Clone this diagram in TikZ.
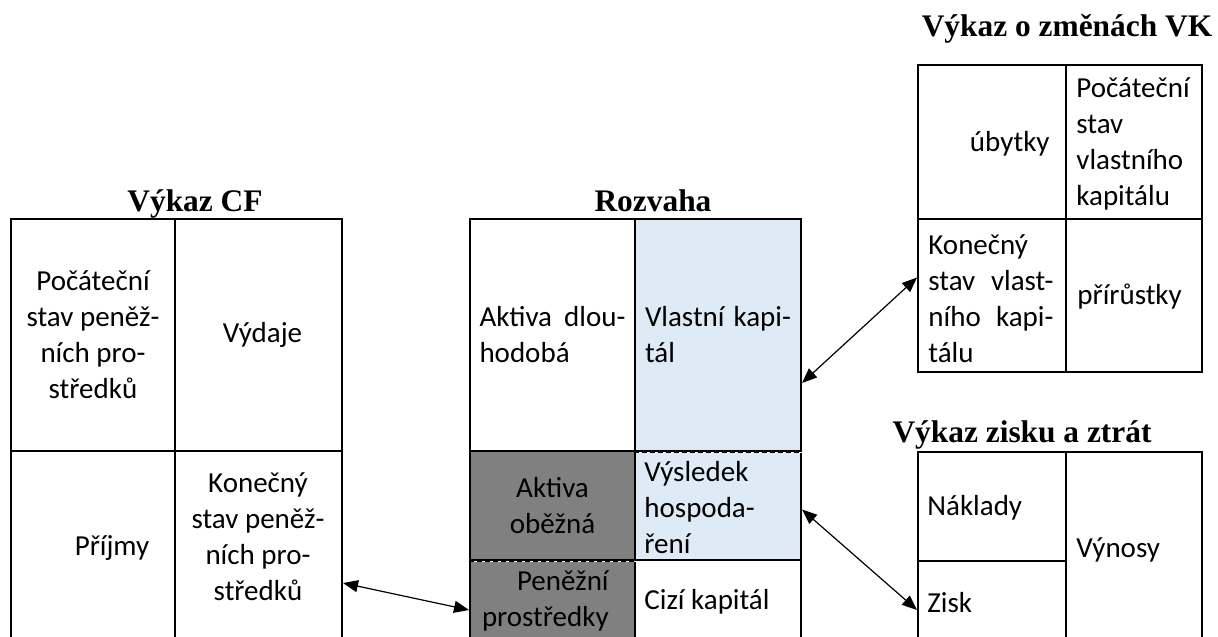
\documentclass[tikz,border=0pt]{standalone}
\usepackage{fontspec}
\setmainfont{Carlito}
\newfontfamily\titlefont{Liberation Serif}
\usetikzlibrary{fit}
\usetikzlibrary{arrows.meta}
\definecolor{vkblue}{HTML}{DEEBF7}
\definecolor{obgray}{HTML}{808080}
\tikzset{
    cell/.style={draw,line width=1pt,inner sep=0pt},
    txt/.style={inner sep=0pt,font=\fontsize{14.5}{18}\selectfont},
    head/.style={inner sep=0pt,anchor=base,font=\titlefont\bfseries\fontsize{15.7}{19}\selectfont},
    cut/.style={line width=1.1pt,dash pattern=on 2.6pt off 1.4pt,preaction={draw=white,solid}},
    link/.style={<->,line width=0.6pt}
}
\begin{document}
\begin{tikzpicture}[>={Triangle[length=7.5pt,width=6pt]},x=0.5pt,y=0.5pt]
                        \useasboundingbox (0,0) rectangle (1218,-636);
                        \clip (0,0) rectangle (1218,-636);
                        \node[head] (tcf) at (195,-212) {Výkaz CF};
                        \node[head] (troz) at (653,-212) {Rozvaha};
                        \node[head] (tvk) at (1067,-37) {Výkaz o změnách VK};
                        \node[head] (tvzz) at (1022,-442) {Výkaz zisku a ztrát};
                        \node[cell,fit={(11,-219) (175,-451)}] (cfpoc) {};
                        \node[cell,fit={(175,-219) (342,-451)}] (cfvyd) {};
                        \node[cell,fit={(11,-451) (175,-715)}] (cfpri) {};
                        \node[cell,fit={(175,-451) (342,-715)}] (cfkon) {};
                        \node[cell,fit={(470,-219) (635,-451)}] (dlouh) {};
                        \node[cell,fill=obgray,fit={(470,-451) (635,-560)}] (obezna) {};
                        \node[cell,fill=obgray,fit={(470,-560) (635,-660)}] (penize) {};
                        \node[cell,fill=vkblue,fit={(635,-219) (801,-451)}] (vlastni) {};
                        \node[cell,fill=vkblue,fit={(635,-451) (801,-560)}] (vysledek) {};
                        \node[cell,fit={(635,-560) (801,-700)}] (cizi) {};
                        \draw[cut] (vlastni.south west) -- (vlastni.south east);
                        \draw[cut] (obezna.south west) -- (obezna.south east);
                        \node[cell,fit={(918,-65) (1066,-219)}] (vkuby) {};
                        \node[cell,fit={(1066,-65) (1202,-219)}] (vkpoc) {};
                        \node[cell,fit={(918,-219) (1066,-372)}] (vkkon) {};
                        \node[cell,fit={(1066,-219) (1202,-372)}] (vkpri) {};
                        \node[cell,fit={(918,-452) (1066,-561)}] (zinak) {};
                        \node[cell,fit={(918,-561) (1066,-659)}] (zisk) {};
                        \node[cell,fit={(1066,-452) (1202,-700)}] (zivyn) {};
                        \node[txt,align=center] (tpoc) at (cfpoc) {Počáteční\\stav peněž-\\ních pro-\\středků};
                        \node[txt] (tvyd) at ([xshift=2pt]cfvyd.center) {Výdaje};
                        \node[txt] (tpri) at (112,-548) {Příjmy};
                        \node[txt,align=center] (tkon) at (258,-537) {Konečný\\stav peněž-\\ních pro-\\středků};
                        \node[txt,text width=73pt,align=justify] (tdlouh) at (dlouh) {Aktiva dlou-\linebreak hodobá};
                        \node[txt,text width=73pt,align=justify] (tvlast) at (vlastni) {Vlastní kapi-\linebreak tál};
                        \node[txt,align=center] (tobez) at (obezna) {Aktiva\\oběžná};
                        \node[txt,align=right,anchor=east] (tpen) at (609,-601) {Peněžní\\prostředky};
                        \node[txt,align=left,anchor=west] (tvys) at (644,-508) {Výsledek\\hospoda-\\ření};
                        \node[txt,anchor=west] (tcizi) at (644,-602) {Cizí kapitál};
                        \node[txt,anchor=east] (tuby) at (1050,-144) {úbytky};
                        \node[txt,align=left,anchor=west] (tvkpoc) at (1076,-144) {Počáteční\\stav\\vlastního\\kapitálu};
                        \node[txt,text width=62.5pt,align=justify,anchor=west] (tvkkon) at (928,-299) {Konečný\\stav vlast-\linebreak ního kapi-\linebreak tálu};
                        \node[txt,anchor=west] (tprir) at (1077,-297) {přírůstky};
                        \node[txt,anchor=west] (tnak) at (927,-508) {Náklady};
                        \node[txt,anchor=west] (tzisk) at (927,-603) {Zisk};
                        \node[txt,anchor=west] (tvyn) at (1076,-550) {Výnosy};
                        \draw[link] (cfkon.east) -- (penize.west);
                        \draw[link] ([yshift=-24pt]vlastni.east) -- ([yshift=9pt]vkkon.west);
                        \draw[link] ([yshift=-2pt]vysledek.east) -- (zisk.west);
                    \end{tikzpicture}
\end{document}
